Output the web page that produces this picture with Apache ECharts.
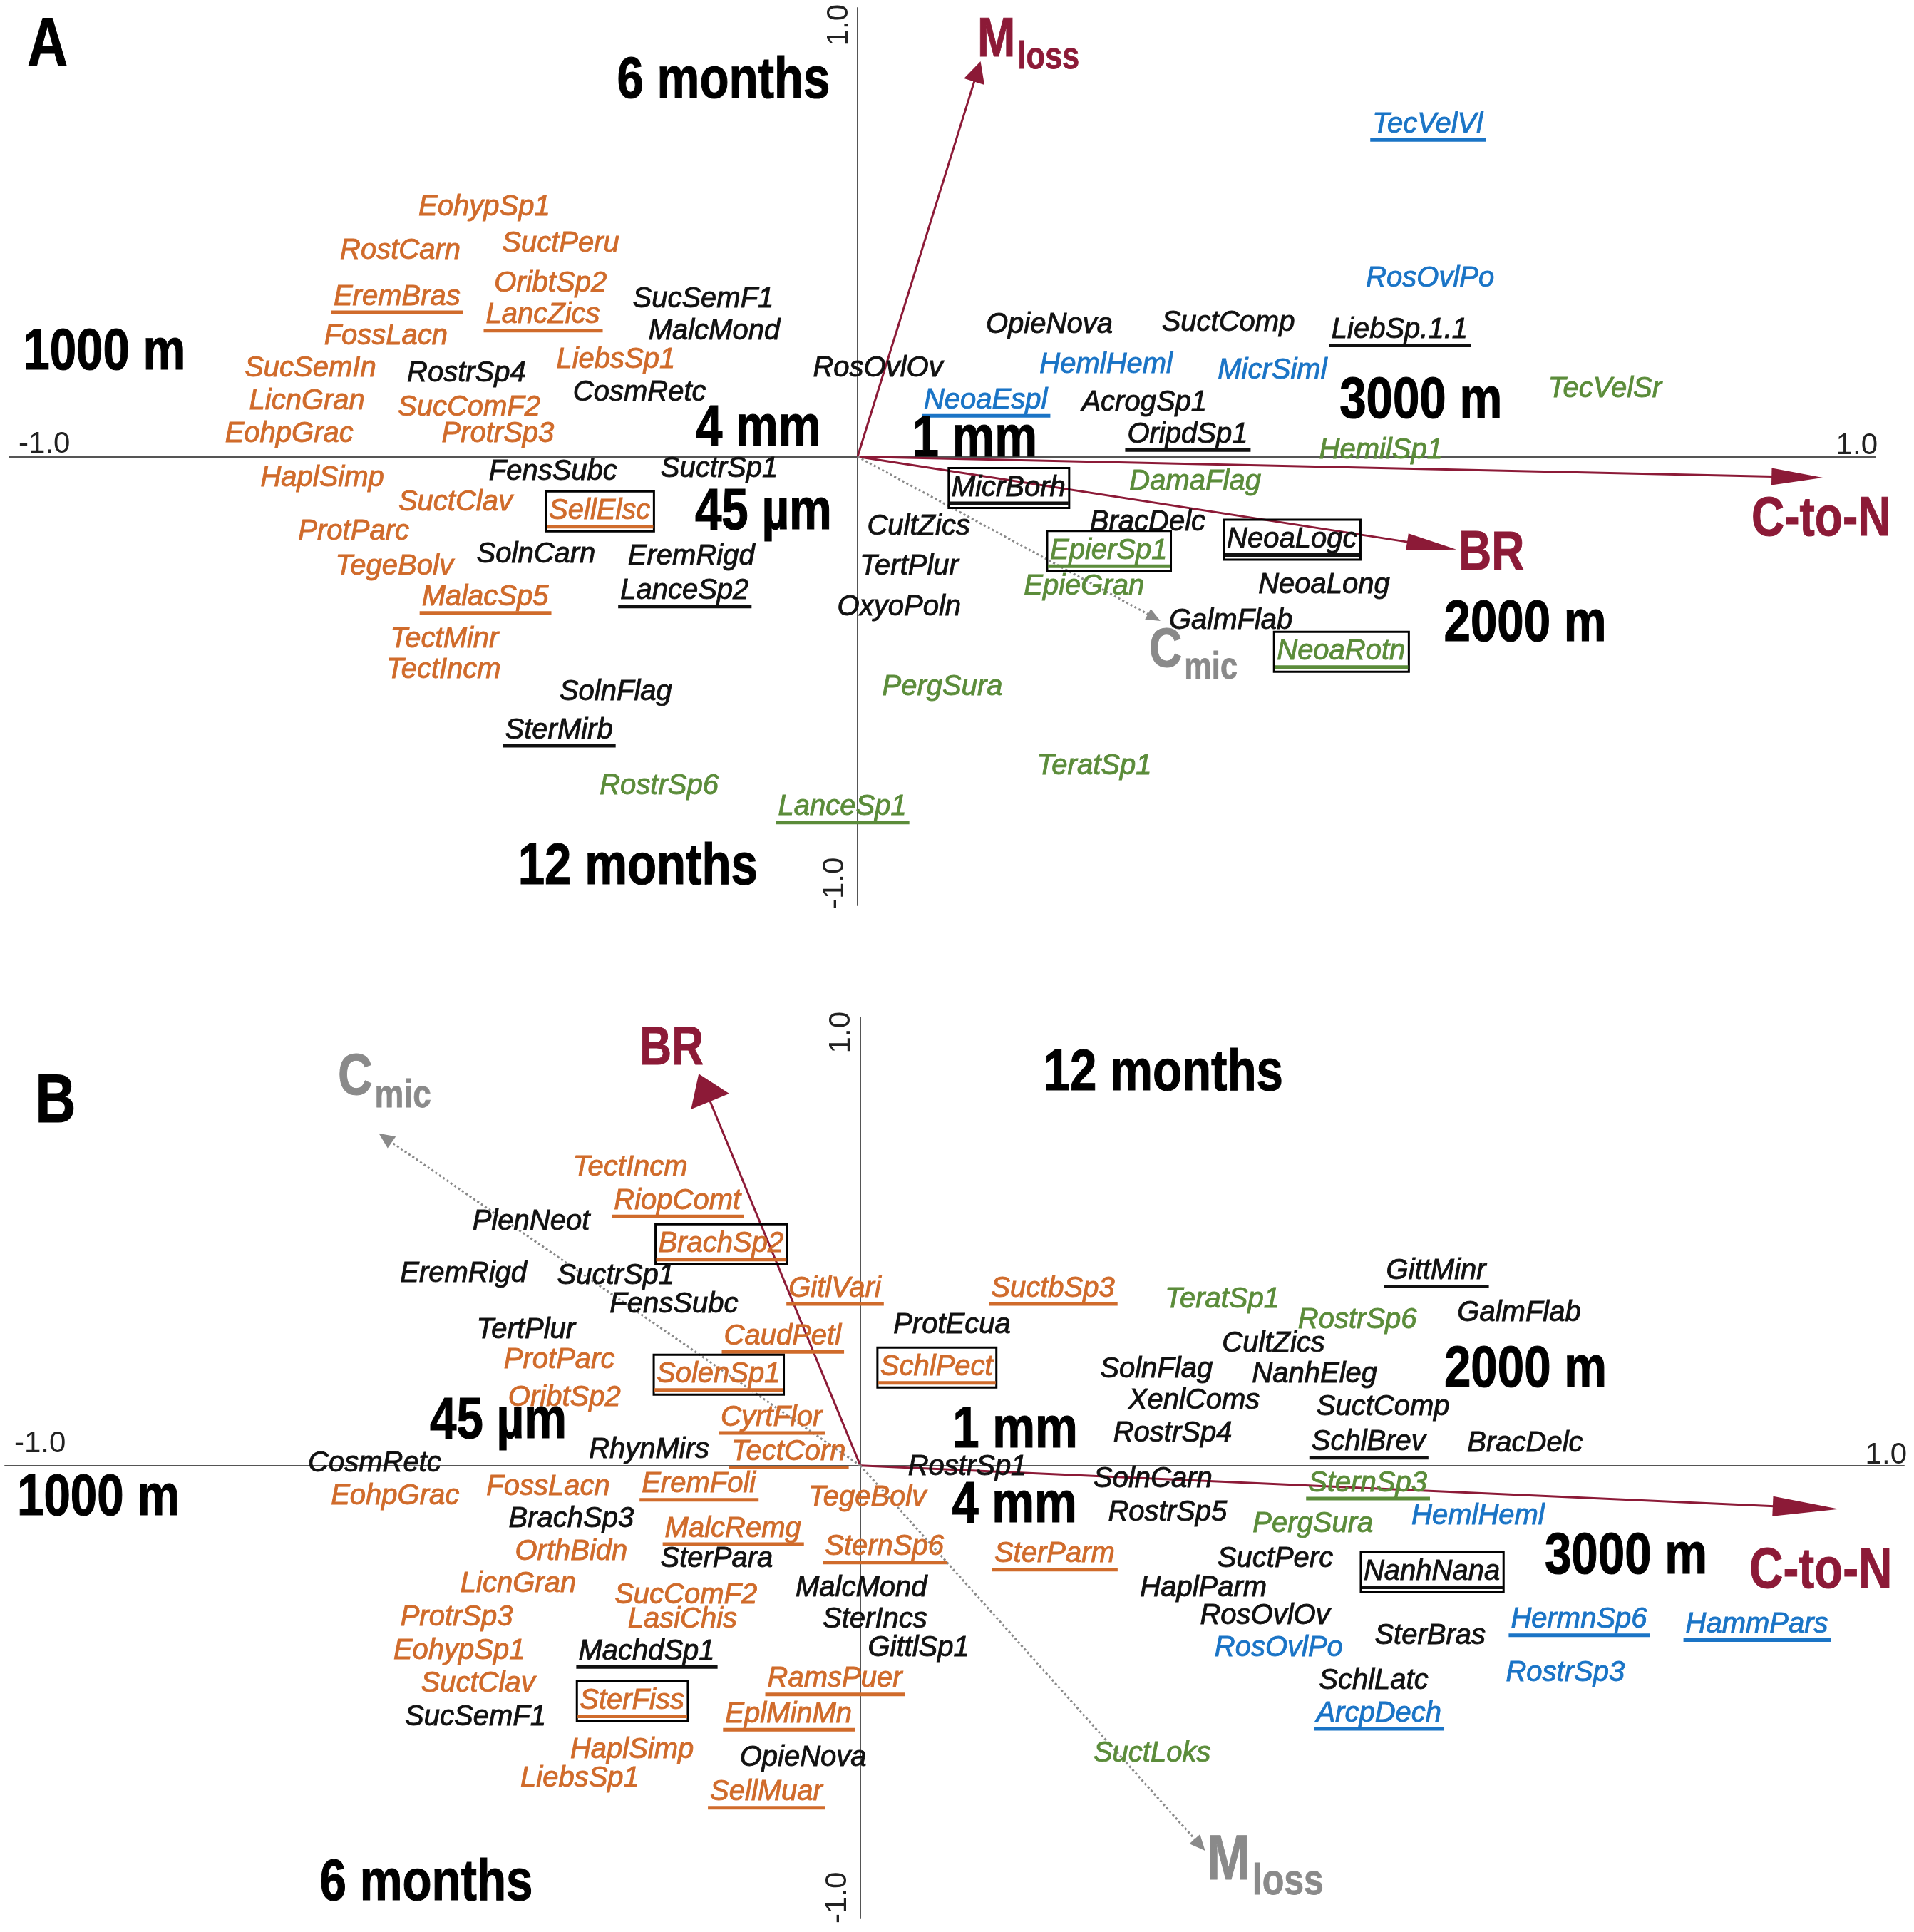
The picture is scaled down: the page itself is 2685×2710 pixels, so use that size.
<!DOCTYPE html>
<html><head><meta charset="utf-8">
<style>html,body{margin:0;padding:0;background:#fff}#chart{width:2685px;height:2710px}</style>
<script src="https://cdn.jsdelivr.net/npm/echarts@6/dist/echarts.min.js"></script>
</head><body><div id="chart"></div>
<script>
// ---------------- DATA ----------------
// Panel A species scores
const namesA = ['EohypSp1','RostCarn','SuctPeru','EremBras','OribtSp2','LancZics','FossLacn','SucSemF1','MalcMond','SucSemIn',
 'RostrSp4','LiebsSp1','CosmRetc','LicnGran','SucComF2','EohpGrac','ProtrSp3','RosOvlOv','HaplSimp','FensSubc',
 'SuctrSp1','SuctClav','SellElsc','ProtParc','TegeBolv','SolnCarn','EremRigd','LanceSp2','MalacSp5','TectMinr',
 'TectIncm','SolnFlag','SterMirb','RostrSp6','LanceSp1','CultZics','TertPlur','OxyoPoln','PergSura','TeratSp1',
 'MicrBorh','BracDelc','EpierSp1','EpieGran','DamaFlag','NeoaLogc','NeoaLong','GalmFlab','NeoaRotn','OpieNova',
 'SuctComp','LiebSp.1.1','HemlHeml','MicrSiml','NeoaEspl','AcrogSp1','OripdSp1','HemilSp1','TecVelSr','TecVelVl','RosOvlPo'];
const xA = [-0.440,-0.539,-0.350,-0.543,-0.362,-0.371,-0.556,-0.182,-0.169,-0.645,
 -0.461,-0.285,-0.257,-0.649,-0.458,-0.670,-0.424,0.024,-0.631,-0.359,
 -0.163,-0.474,-0.304,-0.594,-0.546,-0.379,-0.196,-0.204,-0.439,-0.487,
 -0.488,-0.285,-0.352,-0.234,-0.018,0.072,0.061,0.049,0.100,0.279,
 0.178,0.342,0.296,0.267,0.398,0.512,0.550,0.440,0.570,0.226,
 0.437,0.639,0.293,0.489,0.151,0.338,0.389,0.617,0.881,0.672,0.675];
const yA = [0.556,0.458,0.474,0.356,0.386,0.315,0.268,0.350,0.279,0.197,
 0.186,0.216,0.142,0.123,0.109,0.051,0.051,0.197,-0.048,-0.034,
 -0.028,-0.103,-0.122,-0.168,-0.245,-0.218,-0.223,-0.300,-0.314,-0.407,
 -0.476,-0.525,-0.610,-0.734,-0.781,-0.157,-0.245,-0.336,-0.514,-0.690,
 -0.070,-0.146,-0.210,-0.289,-0.056,-0.185,-0.286,-0.366,-0.435,0.293,
 0.298,0.282,0.205,0.191,0.125,0.120,0.049,0.013,0.150,0.740,0.397];
const groupA = ['o','o','o','o','o','o','o','k','k','o',
 'k','o','k','o','o','o','o','k','o','k',
 'k','o','o','o','o','k','k','k','o','o',
 'o','k','k','g','g','k','k','k','g','g',
 'k','k','g','g','g','k','k','k','g','k',
 'k','k','b','b','b','k','k','g','g','b','b'];
const markA = ['','','','u','','u','','','','',
 '','','','','','','','','','',
 '','','ub','','','','','u','u','',
 '','','u','','u','','','','','',
 'ub','','ub','','','ub','','','ub','',
 '','u','','','u','','u','','','u',''];

// Panel B species scores
const namesB = ['TectIncm','RiopComt','PlenNeot','BrachSp2','EremRigd','SuctrSp1','FensSubc','GitlVari','SuctbSp3','TeratSp1',
 'GittMinr','RostrSp6','GalmFlab','TertPlur','ProtEcua','CaudPetl','CultZics','ProtParc','SchlPect','SolenSp1',
 'SolnFlag','NanhEleg','OribtSp2','XenlComs','SuctComp','CyrtFlor','RhynMirs','TectCorn','RostrSp4','SchlBrev',
 'BracDelc','CosmRetc','RostrSp1','SolnCarn','SternSp3','EohpGrac','FossLacn','EremFoli','TegeBolv','RostrSp5',
 'PergSura','HemlHeml','BrachSp3','MalcRemg','SternSp6','SterParm','OrthBidn','SterPara','SuctPerc','NanhNana',
 'LicnGran','MalcMond','HaplParm','SucComF2','LasiChis','ProtrSp3','SterIncs','RosOvlOv','HermnSp6','HammPars',
 'EohypSp1','MachdSp1','GittlSp1','RosOvlPo','SterBras','RostrSp3','RamsPuer','SuctClav','SchlLatc','SterFiss',
 'SucSemF1','ArcpDech','EplMinMn','HaplSimp','SuctLoks','OpieNova','LiebsSp1','SellMuar'];
const xB = [-0.269,-0.214,-0.385,-0.163,-0.464,-0.286,-0.218,-0.030,0.225,0.423,
 0.673,0.581,0.770,-0.391,0.107,-0.091,0.483,-0.352,0.089,-0.166,
 0.346,0.531,-0.346,0.390,0.611,-0.104,-0.247,-0.084,0.365,0.594,
 0.777,-0.568,0.125,0.342,0.593,-0.544,-0.365,-0.189,0.008,0.359,
 0.529,0.722,-0.338,-0.149,0.028,0.227,-0.338,-0.168,0.485,0.668,
 -0.400,0.001,0.401,-0.204,-0.208,-0.472,0.017,0.473,0.840,1.048,
 -0.469,-0.250,0.068,0.489,0.666,0.824,-0.030,-0.447,0.600,-0.267,
 -0.450,0.606,-0.084,-0.267,0.341,-0.067,-0.328,-0.110];
const yB = [0.664,0.590,0.544,0.494,0.428,0.423,0.359,0.395,0.395,0.370,
 0.434,0.324,0.340,0.302,0.313,0.288,0.272,0.236,0.219,0.203,
 0.214,0.203,0.151,0.145,0.131,0.107,0.035,0.030,0.071,0.052,
 0.049,0.005,-0.003,-0.031,-0.039,-0.069,-0.047,-0.042,-0.072,-0.105,
 -0.130,-0.113,-0.119,-0.141,-0.182,-0.198,-0.193,-0.209,-0.209,-0.237,
 -0.264,-0.273,-0.273,-0.289,-0.344,-0.338,-0.344,-0.336,-0.344,-0.355,
 -0.413,-0.415,-0.407,-0.407,-0.380,-0.462,-0.476,-0.487,-0.481,-0.525,
 -0.561,-0.553,-0.555,-0.635,-0.643,-0.652,-0.698,-0.729];
const groupB = ['o','o','k','o','k','k','k','o','o','g',
 'k','g','k','k','k','o','k','o','o','o',
 'k','k','o','k','k','o','k','o','k','k',
 'k','k','k','k','g','o','o','o','o','k',
 'g','b','k','o','o','o','o','k','k','k',
 'o','k','k','o','o','o','k','k','b','b',
 'o','k','k','b','k','b','o','o','k','o',
 'k','b','o','o','g','k','o','o'];
const markB = ['','u','','ub','','','','u','u','',
 'u','','','','','u','','','ub','ub',
 '','','','','','u','','u','','u',
 '','','','','u','','','u','','',
 '','','','u','u','u','','','','ub',
 '','','','','','','','','u','u',
 '','u','','','','','u','','','ub',
 '','u','u','','','','','u'];

// Environmental arrows (tips) and their labels
const arrowMainA = ['M','C-to-N','BR','C'];
const arrowSubA = ['loss','','','mic'];
const arrowKindA = ['solid','solid','solid','dotted'];
const arrowXA = [0.145, 1.138, 0.706, 0.357];
const arrowYA = [0.881, -0.047, -0.207, -0.366];
const arrowLabelXA = [0.1412, 1.0538, 0.7084, 0.3437];
const arrowLabelYA = [0.9269, -0.142, -0.2184, -0.4329];

const arrowMainB = ['BR','C-to-N','C','M'];
const arrowSubB = ['','','mic','loss'];
const arrowKindB = ['solid','solid','dotted','dotted'];
const arrowXB = [-0.189, 1.144, -0.563, 0.403];
const arrowYB = [0.874, -0.097, 0.741, -0.859];
const arrowLabelXB = [-0.2583, 1.0392, -0.6108, 0.405];
const arrowLabelYB = [0.9285, -0.2369, 0.8649, -0.884];

// Supplementary (bold) labels
const zoneTextA = ['6 months','1000 m','4 mm','1 mm','45 µm','3000 m','2000 m','12 months'];
const zoneXA = [-0.158,-0.888,-0.117,0.138,-0.111,0.664,0.787,-0.259];
const zoneYA = [0.836,0.231,0.061,0.036,-0.126,0.123,-0.374,-0.916];
const zoneTextB = ['12 months','2000 m','45 µm','1 mm','1000 m','4 mm','3000 m','6 months'];
const zoneXB = [0.354,0.7775,-0.4233,0.1808,-0.8908,0.18,0.895,-0.5075];
const zoneYB = [0.874,0.2115,0.097,0.0763,-0.0747,-0.0906,-0.205,-0.9332];

const panelLetters = ['A','B'];
const panelLetterX = [-0.955, -0.941];
const panelLetterY = [0.913, 0.808];

const tickLabels = ['-1.0','1.0'];
const axisRangeA = {xMin:-1, xMax:1.2, yMin:-1, yMax:1};
const axisRangeB = {xMin:-1, xMax:1.22, yMin:-1.01, yMax:1.0};

// ---------------- STYLES ----------------
const FF = '"Liberation Sans", Arial, Helvetica, sans-serif';
const SPECIES_FONT = 'italic 40px ' + FF;
const GROUP_COLORS = {o:'#D06B2B', k:'#111111', g:'#5B8C3A', b:'#1A74C6'};
const RED = '#8C1A37', GRAY = '#8A8A8A';
const BOLD_SX = 0.82;
const arrowStyleA = [{head:[30,30],font:78},{head:[72,24],font:78},{head:[70,24],font:78},{head:[20,17],font:78}];
const arrowStyleB = [{head:[42,58],font:76},{head:[93,28],font:80},{head:[22,20],font:82},{head:[22,20],font:89}];
const tickOffA = {left:[13,-17.5], right:[3,-15], top:[-26,-5], bottom:[-32,5]};
const tickOffB = {left:[13,-30.5], right:[4,-14.5], top:[-27,-8], bottom:[-32,7]};

const mctx = document.createElement('canvas').getContext('2d');
function textWidth(t, font){ mctx.font = font; return mctx.measureText(t).width; }
function makeText(x, y, text, font, fill, align, extra, strokeW) {
  const st = {text:text, x:0, y:0, font:font, fill:fill,
    textAlign:align, textVerticalAlign:'middle', align:align, verticalAlign:'middle'};
  if (strokeW) { st.stroke = fill; st.lineWidth = strokeW; }
  const el = {type:'text', x:x, y:y, style:st};
  if (extra) Object.assign(el, extra);
  return el;
}

function speciesRenderer(names, groups, marks) {
  return function (params, api) {
    const i = params.dataIndex;
    const p = api.coord([api.value(0), api.value(1)]);
    const color = GROUP_COLORS[groups[i]];
    const w = textWidth(names[i], SPECIES_FONT);
    const kids = [];
    const m = marks[i];
    if (m.indexOf('b') >= 0) {
      kids.push({type:'rect', shape:{x:p[0]-w/2-4, y:p[1]-28, width:w+9, height:56},
        style:{fill:'none', stroke:'#000', lineWidth:3}});
    }
    kids.push(makeText(p[0], p[1], names[i], SPECIES_FONT, color, 'center', null, 0.9));
    if (m.indexOf('u') >= 0) {
      kids.push({type:'rect', shape:{x:p[0]-w/2-3, y:p[1]+19, width:w+7, height:5}, style:{fill:color}});
    }
    return {type:'group', children:kids};
  };
}

function arrowRenderer(kinds, mains, subs, lxs, lys, styles) {
  return function (params, api) {
    const i = params.dataIndex;
    const o = api.coord([0, 0]);
    const t = api.coord([api.value(0), api.value(1)]);
    const st = styles[i];
    const dx = t[0]-o[0], dy = t[1]-o[1], len = Math.hypot(dx, dy);
    const ux = dx/len, uy = dy/len;
    const bx = t[0]-ux*st.head[0], by = t[1]-uy*st.head[0];
    const hw = st.head[1]/2;
    const dotted = kinds[i] === 'dotted';
    const color = dotted ? GRAY : RED;
    const kids = [];
    kids.push({type:'line', shape:{x1:o[0], y1:o[1], x2:bx+ux*2, y2:by+uy*2},
      style:{stroke:color, lineWidth:3, lineDash: dotted ? [3,3.5] : null}});
    kids.push({type:'polygon', shape:{points:[[t[0],t[1]],[bx-uy*hw, by+ux*hw],[bx+uy*hw, by-ux*hw]]},
      style:{fill:color}});
    const lp = api.coord([lxs[i], lys[i]]);
    const mainFont = 'bold ' + st.font + 'px ' + FF;
    kids.push(makeText(lp[0], lp[1], mains[i], mainFont, color, 'left', {scaleX:BOLD_SX}, 1));
    if (subs[i]) {
      const mw = textWidth(mains[i], mainFont) * BOLD_SX;
      const sf = Math.round(st.font * 0.68);
      kids.push(makeText(lp[0]+mw+3, lp[1]+st.font*0.315, subs[i], 'bold ' + sf + 'px ' + FF, color, 'left', {scaleX:BOLD_SX}, 0.8));
    }
    return {type:'group', children:kids};
  };
}

function zoneRenderer(texts, size) {
  return function (params, api) {
    const p = api.coord([api.value(0), api.value(1)]);
    return makeText(p[0], p[1], texts[params.dataIndex], 'bold ' + size + 'px ' + FF, '#000', 'center', {scaleX:BOLD_SX}, 1.2);
  };
}

function tickRenderer(ax, off) {
  return function (params, api) {
    const L = api.coord([ax.xMin, 0]), R = api.coord([ax.xMax, 0]);
    const T = api.coord([0, ax.yMax]), Bt = api.coord([0, ax.yMin]);
    const f = '42px ' + FF, c = '#222';
    return {type:'group', children:[
      makeText(L[0]+off.left[0], L[1]+off.left[1], tickLabels[0], f, c, 'left'),
      makeText(R[0]+off.right[0], R[1]+off.right[1], tickLabels[1], f, c, 'right'),
      makeText(T[0]+off.top[0], T[1]+off.top[1], tickLabels[1], f, c, 'right', {rotation:Math.PI/2}),
      makeText(Bt[0]+off.bottom[0], Bt[1]+off.bottom[1], tickLabels[0], f, c, 'left', {rotation:Math.PI/2})
    ]};
  };
}

function axisDef(gridIndex, min, max) {
  return {type:'value', gridIndex:gridIndex, min:min, max:max,
    axisLine:{show:true, onZero:true, lineStyle:{color:'#555', width:2}},
    axisTick:{show:false}, axisLabel:{show:false}, splitLine:{show:false}};
}
function pairs(xs, ys){ return xs.map((x,i)=>[x, ys[i]]); }

const panels = [
  {idx:0, ax:axisRangeA, names:namesA, xs:xA, ys:yA, groups:groupA, marks:markA,
   aMain:arrowMainA, aSub:arrowSubA, aKind:arrowKindA, aX:arrowXA, aY:arrowYA, aLX:arrowLabelXA, aLY:arrowLabelYA, aSt:arrowStyleA,
   zT:zoneTextA, zX:zoneXA, zY:zoneYA, tick:tickOffA},
  {idx:1, ax:axisRangeB, names:namesB, xs:xB, ys:yB, groups:groupB, marks:markB,
   aMain:arrowMainB, aSub:arrowSubB, aKind:arrowKindB, aX:arrowXB, aY:arrowYB, aLX:arrowLabelXB, aLY:arrowLabelYB, aSt:arrowStyleB,
   zT:zoneTextB, zX:zoneXB, zY:zoneYB, tick:tickOffB}
];

const series = [];
panels.forEach(P => {
  const base = {type:'custom', xAxisIndex:P.idx, yAxisIndex:P.idx, clip:false, silent:true, animation:false};
  series.push(Object.assign({}, base, {data:[[0,0]], renderItem:tickRenderer(P.ax, P.tick)}));
  series.push(Object.assign({}, base, {data:pairs(P.aX, P.aY),
    renderItem:arrowRenderer(P.aKind, P.aMain, P.aSub, P.aLX, P.aLY, P.aSt)}));
  series.push(Object.assign({}, base, {data:pairs(P.xs, P.ys), renderItem:speciesRenderer(P.names, P.groups, P.marks)}));
  series.push(Object.assign({}, base, {data:pairs(P.zX, P.zY), renderItem:zoneRenderer(P.zT, 82)}));
  series.push(Object.assign({}, base, {data:[[panelLetterX[P.idx], panelLetterY[P.idx]]],
    renderItem:zoneRenderer([panelLetters[P.idx]], 96)}));
});

const chart = echarts.init(document.getElementById('chart'), null, {renderer:'canvas', width:2685, height:2710});
chart.setOption({
  backgroundColor:'#ffffff',
  animation:false,
  grid:[{left:13, top:11, width:2618, height:1259}, {left:7, top:1427, width:2664, height:1264}],
  xAxis:[axisDef(0, axisRangeA.xMin, axisRangeA.xMax), axisDef(1, axisRangeB.xMin, axisRangeB.xMax)],
  yAxis:[axisDef(0, axisRangeA.yMin, axisRangeA.yMax), axisDef(1, axisRangeB.yMin, axisRangeB.yMax)],
  series:series
});
</script></body></html>
